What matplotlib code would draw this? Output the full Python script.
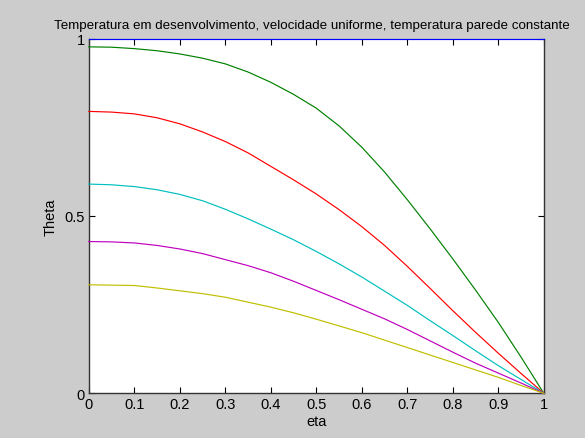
import matplotlib
matplotlib.use("Agg")
import matplotlib.pyplot as plt

# eta grid and temperature profiles (inlet -> downstream)
eta = [0.0, 0.05, 0.1, 0.15, 0.2, 0.25, 0.3, 0.35, 0.4, 0.45, 0.5,
       0.55, 0.6, 0.65, 0.7, 0.75, 0.8, 0.85, 0.9, 0.95, 1.0]
theta_0 = [1.0] * 21
theta_1 = [0.977, 0.976, 0.972, 0.966, 0.957, 0.945, 0.929, 0.906, 0.877, 0.843, 0.804,
           0.754, 0.694, 0.624, 0.546, 0.464, 0.379, 0.291, 0.200, 0.102, 0.0]
theta_2 = [0.795, 0.793, 0.788, 0.777, 0.760, 0.737, 0.710, 0.678, 0.640, 0.602, 0.562,
           0.518, 0.470, 0.417, 0.358, 0.296, 0.233, 0.172, 0.113, 0.056, 0.0]
theta_3 = [0.590, 0.588, 0.583, 0.574, 0.561, 0.543, 0.519, 0.492, 0.463, 0.433, 0.400,
           0.365, 0.328, 0.288, 0.248, 0.205, 0.163, 0.120, 0.078, 0.039, 0.0]
theta_4 = [0.428, 0.427, 0.424, 0.417, 0.407, 0.394, 0.377, 0.360, 0.340, 0.316, 0.290,
           0.264, 0.237, 0.210, 0.180, 0.148, 0.116, 0.085, 0.057, 0.029, 0.0]
theta_5 = [0.306, 0.305, 0.304, 0.297, 0.289, 0.281, 0.271, 0.257, 0.243, 0.227, 0.209,
           0.190, 0.171, 0.150, 0.129, 0.108, 0.087, 0.066, 0.045, 0.022, 0.0]

profiles = [theta_0, theta_1, theta_2, theta_3, theta_4, theta_5]
colors = ["#0000ff", "#008000", "#ff0000", "#00bfbf", "#bf00bf", "#bfbf00"]

xticks = [0.0, 0.1, 0.2, 0.3, 0.4, 0.5, 0.6, 0.7, 0.8, 0.9, 1.0]
xticklabels = ["0", "0.1", "0.2", "0.3", "0.4", "0.5", "0.6", "0.7", "0.8", "0.9", "1"]
yticks = [0.0, 0.5, 1.0]
yticklabels = ["0", "0.5", "1"]

plt.rcParams["font.family"] = ["Liberation Sans", "DejaVu Sans"]

fig = plt.figure(figsize=(5.85, 4.39), dpi=100, facecolor="#cccccc")
ax = fig.add_axes([0.1518, 0.1018, 0.7778, 0.8078])
ax.set_facecolor("white")

for th, c in zip(profiles, colors):
    ax.plot(eta, th, color=c, linewidth=0.85, clip_on=False, zorder=3)

ax.set_xlim(0, 1)
ax.set_ylim(0, 1)
ax.set_xticks(xticks)
ax.set_xticklabels(xticklabels)
ax.set_yticks(yticks)
ax.set_yticklabels(yticklabels)
ax.tick_params(direction="in", top=True, right=True, length=4, width=0.8,
               labelsize=10.5, colors="black", pad=3)
for sp in ax.spines.values():
    sp.set_color("#333333")
    sp.set_linewidth(1.0)
ax.spines["top"].set_visible(False)

ax.set_xlabel("eta", fontsize=10.5, labelpad=2)
ax.set_ylabel("Theta", fontsize=10.5, labelpad=5)
ax.set_title("Temperatura em desenvolvimento, velocidade uniforme, temperatura parede constante",
             fontsize=9.6, pad=8, x=0.49)

fig.savefig("out.png", dpi=100, facecolor=fig.get_facecolor())
